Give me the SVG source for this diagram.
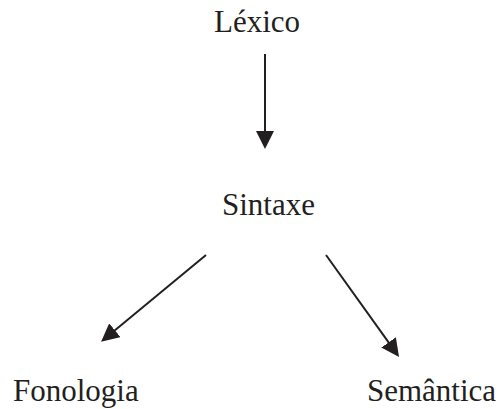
<svg xmlns="http://www.w3.org/2000/svg" width="502" height="409" viewBox="0 0 502 409">
  <style>
    .edge { stroke: #231f20; stroke-width: 2; fill: none; marker-end: url(#head); }
  </style>
  <defs>
    <marker id="head" markerUnits="userSpaceOnUse" markerWidth="18" markerHeight="18" viewBox="0 0 18 18" refX="9" refY="9" orient="auto">
      <path d="M0,0 L18,9 L0,18 z" fill="#231f20"/>
    </marker>
  </defs>
  <rect width="502" height="409" fill="#ffffff"/>

  <g id="connectors">
    <!-- Léxico to Sintaxe -->
    <line class="edge" x1="265" y1="54" x2="265" y2="140"/>
    <!-- Sintaxe to Fonologia -->
    <line class="edge" x1="206" y1="255" x2="108" y2="336"/>
    <!-- Sintaxe to Semântica -->
    <line class="edge" x1="326" y1="255" x2="393.8" y2="349.7"/>
  </g>

  <g font-family="Liberation Serif, Times New Roman, serif" font-size="31" fill="#231f20">
    <g id="lexico"><text x="214" y="32">Léxico</text></g>
    <g id="sintaxe"><text x="222" y="215">Sintaxe</text></g>
    <g id="fonologia"><text x="13" y="401">Fonologia</text></g>
    <g id="semantica"><text x="367" y="401">Semântica</text></g>
  </g>
</svg>
